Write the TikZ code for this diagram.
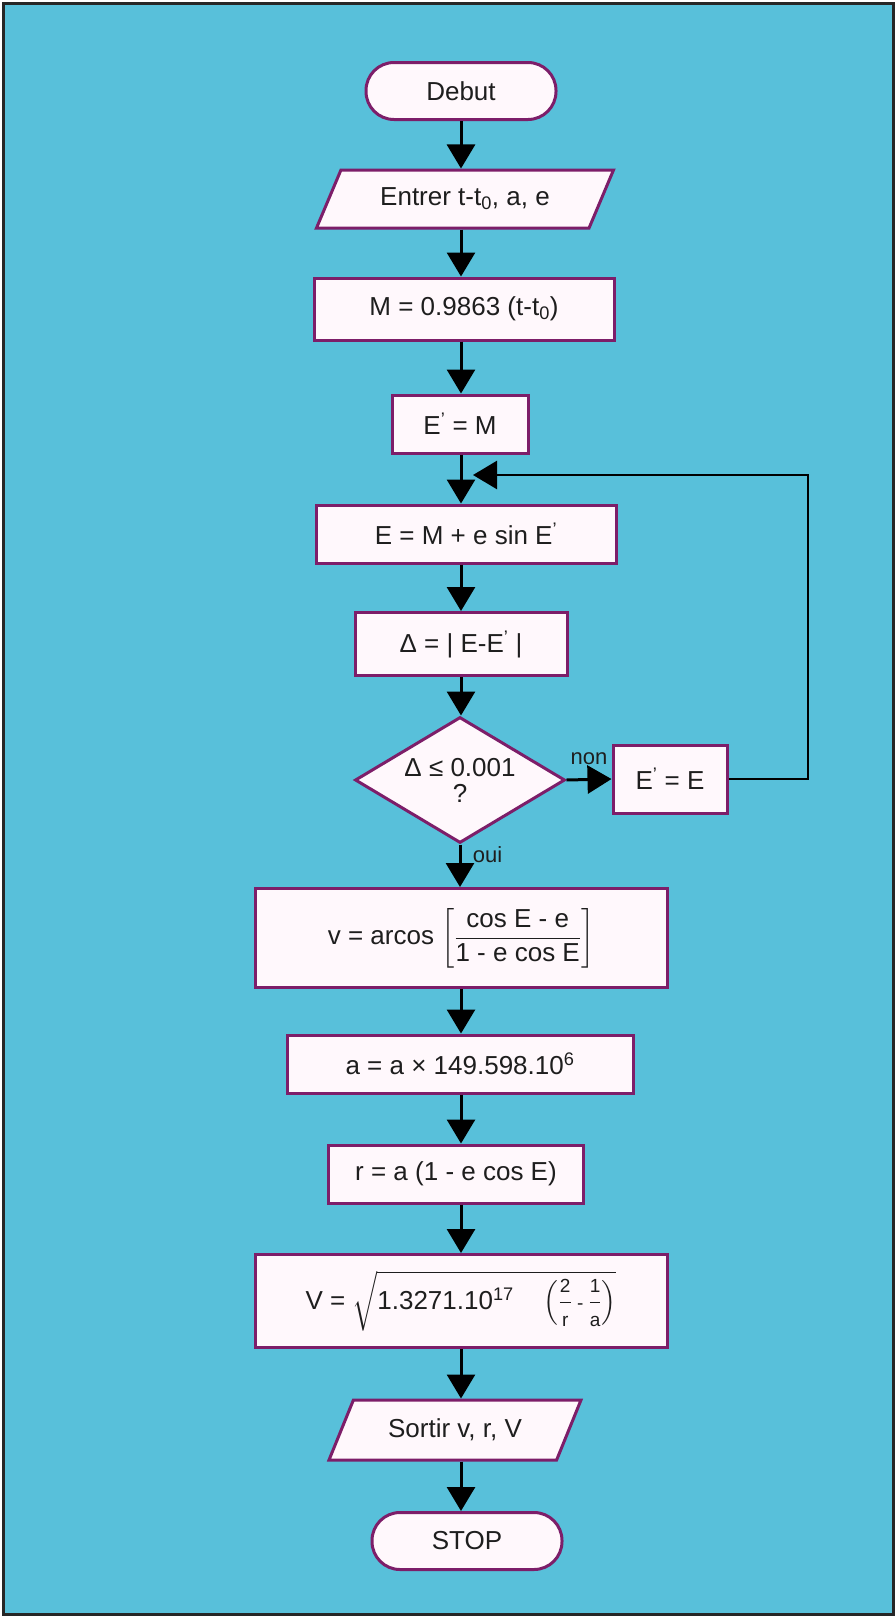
\documentclass[tikz,border=0pt]{standalone}
\usepackage{amsmath}
\usepackage{fontspec}
\setmainfont{Liberation Sans}
\usetikzlibrary{positioning,arrows.meta,shapes.geometric}
\definecolor{bgblue}{RGB}{88,192,218}
\definecolor{boxline}{RGB}{125,30,105}
\definecolor{boxfill}{RGB}{255,248,252}
\definecolor{ink}{RGB}{30,30,30}
\newcommand{\fracfont}{\fontsize{19}{20}\selectfont}

\begin{document}
\begin{tikzpicture}[x=1pt, y=-1pt,
        every node/.style={font=\fontsize{26}{26}\selectfont, text=ink},
        proc/.style={rectangle, draw=boxline, fill=boxfill, line width=3pt, inner sep=2pt},
        terminal/.style={proc, rounded corners=28pt, minimum width=190pt, minimum height=57pt},
        io/.style={trapezium, trapezium left angle=47, trapezium right angle=133, trapezium stretches body,
            draw=boxline, fill=boxfill, line width=3pt, inner sep=2pt},
        decision/.style={diamond, aspect=1.7, draw=boxline, fill=boxfill, line width=3pt, minimum width=210pt,
            minimum height=126pt, inner sep=0pt, align=center},
        arrow/.style={-{Triangle[width=28pt,length=24pt]}, line width=3pt},
        lbl/.style={font=\fontsize{22}{24}\selectfont}
    ]
    \useasboundingbox (0,0) rectangle (896,1617);
    \draw[line width=3pt, draw=black!85, fill=bgblue] (3,3) rectangle (893,1614);

    \node[terminal] (debut) at (461, 91) {Debut};
    \node[io, minimum width=297pt, minimum height=58pt] (entrer) at (465, 199) {Entrer t-t\textsubscript{0}, a, e};
    \node[proc, minimum width=300pt, minimum height=62pt] (mcalc) at (464, 309) {M = 0.9863 (t-t\textsubscript{0})};
    \node[proc, minimum width=136pt, minimum height=58pt] (einit) at (460, 424) {E\textsuperscript{'} = M};
    \node[proc, minimum width=300pt, minimum height=58pt] (ecalc) at (466, 534) {E = M + e sin E\textsuperscript{'}};
    \node[proc, minimum width=212pt, minimum height=63pt] (delta) at (461, 644) {Δ = | E-E\textsuperscript{'} |};
    \node[decision] (test) at (460, 780) {Δ ≤ 0.001\\?};
    \node[proc, minimum width=114pt, minimum height=68pt] (eupd) at (670, 779) {E\textsuperscript{'} = E};
    \node[proc, minimum width=412pt, minimum height=99pt] (vcalc) at (461, 938)
        {v = arcos $\left[\dfrac{\text{cos E - e}}{\text{1 - e cos E}}\right]$};
    \node[proc, minimum width=346pt, minimum height=58pt] (acalc) at (460, 1064) {a = a × 149.598.10\textsuperscript{6}};
    \node[proc, minimum width=255pt, minimum height=58pt] (rcalc) at (456, 1174) {r = a (1 - e cos E)};
    \node[proc, minimum width=412pt, minimum height=93pt] (vitesse) at (461, 1301)
        {V = $\sqrt{\text{1.3271.10\textsuperscript{17}}\quad\left(\dfrac{\text{\fracfont 2}}{\text{\fracfont r}}
            \text{\fracfont\ - }\dfrac{\text{\fracfont 1}}{\text{\fracfont a}}\right)}$};
    \node[io, minimum width=252pt, minimum height=60pt] (sortir) at (455, 1430) {Sortir v, r, V};
    \node[terminal] (stop) at (467, 1541) {STOP};

    \foreach \a/\b in {debut/entrer, entrer/mcalc, mcalc/einit, einit/ecalc, ecalc/delta, delta/test,
        vcalc/acalc, acalc/rcalc, rcalc/vitesse, vitesse/sortir, sortir/stop} {
        \draw[arrow] (\a.south -| debut) -- (\b.north -| debut);
    }
    \draw[arrow] (test.south) -- node[lbl, right=8pt, pos=0.25] (oui) {oui} (vcalc.north -| test.south);
    \draw[arrow] (test.east) -- node[lbl, above=10pt] (non) {non} (eupd.west);

    \coordinate (loopc) at (808, 475);
    \coordinate (merge) at (473, 475);
    \draw[arrow, line width=2.5pt] (eupd.east) -| (loopc) -- (merge);
\end{tikzpicture}
\end{document}
